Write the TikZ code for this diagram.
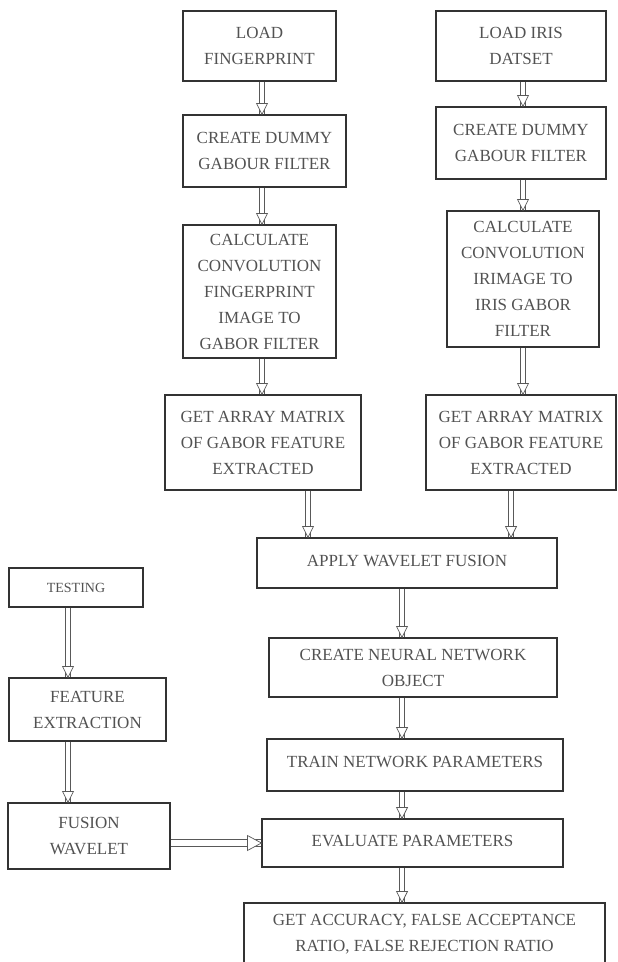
\documentclass[tikz,border=0pt]{standalone}
\usepackage{fontspec}
\setmainfont{Liberation Serif}
\usetikzlibrary{calc,decorations.markings}
\newcommand\varrow[2]{%
  \draw[shaftline] ($#1+(-2.8pt,0)$) -- ($#2+(-2.8pt,0)$);
  \draw[shaftline] ($#1+(2.8pt,0)$) -- ($#2+(2.8pt,0)$);
  \path[tipv] #1 -- #2;}
\newcommand\harrow[2]{%
  \draw[shaftline] ($#1+(0,-3.2pt)$) -- ($#2+(0,-3.2pt)$);
  \draw[shaftline] ($#1+(0,3.2pt)$) -- ($#2+(0,3.2pt)$);
  \path[tiph] #1 -- #2;}
\begin{document}
\begin{tikzpicture}[x=1pt,y=-1pt,
  box/.style={draw=black!80, line width=1.1pt, rectangle, align=center, text=black!68,
    font=\fontsize{17}{26}\selectfont, inner sep=0pt},
  shaftline/.style={draw=black!65, line width=0.7pt},
  tipmark/.style n args={2}{
    postaction={decorate, decoration={markings, mark=at position 1 with
      {\filldraw[draw=black!65, fill=white, line width=0.7pt, line join=miter]
        (0pt,0pt) -- (-#1,#2) -- (-#1,-#2) -- cycle;}}}},
  tipv/.style={tipmark={11pt}{5.5pt}},
  tiph/.style={tipmark={14pt}{7.5pt}},
]
\useasboundingbox (0,0) rectangle (618,962);
% left column
\node[box, minimum width=153pt, minimum height=70pt] (n1) at (259.5,46) {LOAD\\FINGERPRINT};
\node[box, minimum width=163pt, minimum height=72pt] (n2) at (264.5,151) {CREATE DUMMY\\GABOUR FILTER};
\node[box, minimum width=153pt, minimum height=133pt] (n3) at (259.5,291.5) {CALCULATE\\CONVOLUTION\\FINGERPRINT\\IMAGE TO\\GABOR FILTER};
\node[box, minimum width=196pt, minimum height=95pt] (n4) at (263,442.5) {GET ARRAY MATRIX\\OF GABOR FEATURE\\EXTRACTED};
% right column
\node[box, minimum width=170pt, minimum height=70pt] (r1) at (521,46) {LOAD IRIS\\DATSET};
\node[box, minimum width=170pt, minimum height=72pt] (r2) at (521,143) {CREATE DUMMY\\GABOUR FILTER};
\node[box, minimum width=152pt, minimum height=136pt] (r3) at (523,279) {CALCULATE\\CONVOLUTION\\IRIMAGE TO\\IRIS GABOR\\FILTER};
\node[box, minimum width=190pt, minimum height=95pt] (r4) at (521,442.5) {GET ARRAY MATRIX\\OF GABOR FEATURE\\EXTRACTED};
% centre column
\node[box, minimum width=300pt, minimum height=50pt] (ap) at (407,563) {\raisebox{5pt}{APPLY WAVELET FUSION}};
\node[box, minimum width=288pt, minimum height=59pt] (nn) at (413,667.5) {CREATE NEURAL NETWORK\\OBJECT};
\node[box, minimum width=296pt, minimum height=52pt] (tr) at (415,765) {\raisebox{7pt}{TRAIN NETWORK PARAMETERS}};
\node[box, minimum width=301pt, minimum height=48pt] (ev) at (412.5,843) {\raisebox{5pt}{EVALUATE PARAMETERS}};
\node[box, minimum width=361pt, minimum height=62pt] (ga) at (424.5,934) {GET ACCURACY, FALSE ACCEPTANCE\\RATIO, FALSE REJECTION RATIO};
% testing column
\node[box, minimum width=134pt, minimum height=39pt, font=\fontsize{14}{20}\selectfont] (ts) at (76,587.5) {TESTING};
\node[box, minimum width=157pt, minimum height=63pt] (fe) at (87.5,709.5) {FEATURE\\EXTRACTION};
\node[box, minimum width=162pt, minimum height=66pt] (fw) at (89,836) {FUSION\\WAVELET};
% arrow positions
\coordinate (xl) at (262,0);
\coordinate (xr) at (523,0);
\coordinate (xa) at (308,0);
\coordinate (xb) at (511,0);
\coordinate (xc) at (402,0);
\coordinate (xt) at (68,0);
\coordinate (yh) at (0,843);
% arrows
\varrow{(n1.south -| xl)}{(n2.north -| xl)}
\varrow{(n2.south -| xl)}{(n3.north -| xl)}
\varrow{(n3.south -| xl)}{(n4.north -| xl)}
\varrow{(r1.south -| xr)}{(r2.north -| xr)}
\varrow{(r2.south -| xr)}{(r3.north -| xr)}
\varrow{(r3.south -| xr)}{(r4.north -| xr)}
\varrow{(n4.south -| xa)}{(ap.north -| xa)}
\varrow{(r4.south -| xb)}{(ap.north -| xb)}
\varrow{(ap.south -| xc)}{(nn.north -| xc)}
\varrow{(nn.south -| xc)}{(tr.north -| xc)}
\varrow{(tr.south -| xc)}{(ev.north -| xc)}
\varrow{(ev.south -| xc)}{(ga.north -| xc)}
\varrow{(ts.south -| xt)}{(fe.north -| xt)}
\varrow{(fe.south -| xt)}{(fw.north -| xt)}
\harrow{(fw.east |- yh)}{(ev.west |- yh)}
\end{tikzpicture}
\end{document}
